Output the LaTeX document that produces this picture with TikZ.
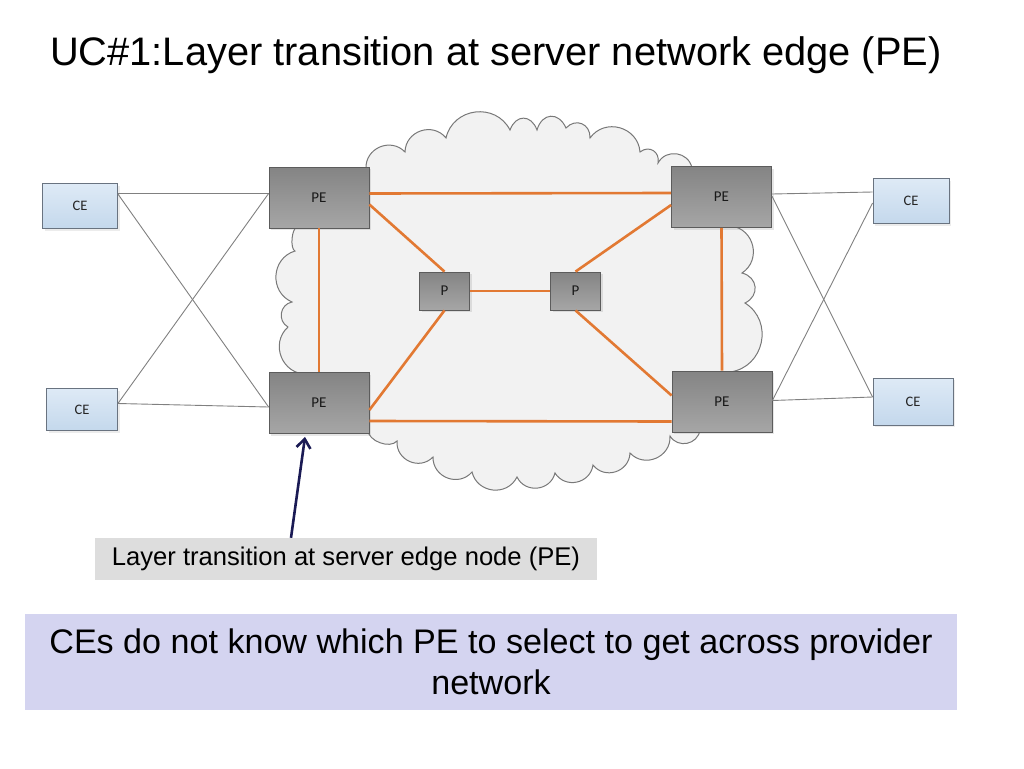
\documentclass[tikz,border=0pt]{standalone}
\usepackage{fontspec}
\setmainfont{Liberation Sans}
\newfontfamily\boxfont{Carlito}
\usepackage{tikz}
\usetikzlibrary{calc}
\usetikzlibrary{arrows.meta}
\usetikzlibrary{shadows}
\tikzset{>=Stealth}

\definecolor{cloudfill}{RGB}{242,242,242}
\definecolor{cloudedge}{RGB}{120,120,120}
\definecolor{linkorange}{RGB}{226,121,51}
\definecolor{petop}{RGB}{132,132,132}
\definecolor{pebottom}{RGB}{166,166,166}
\definecolor{peedge}{RGB}{92,92,92}
\definecolor{cetop}{RGB}{222,234,246}
\definecolor{cebottom}{RGB}{196,216,236}
\definecolor{ceedge}{RGB}{105,115,128}
\definecolor{labelfill}{RGB}{221,221,221}
\definecolor{notefill}{RGB}{212,212,240}
\definecolor{arrownavy}{RGB}{26,26,84}

\newcommand\titlesize{\fontsize{39.8}{46}\selectfont}
\newcommand\notesize{\fontsize{34.1}{41}\selectfont}
\newcommand\labelsize{\fontsize{25.6}{30}\selectfont}

\begin{document}
\begin{tikzpicture}
  [
    x=1pt, y=-1pt,
    puff/.style = {bend left=70, looseness=1.25},
    cloudline/.style = {draw=cloudedge, fill=cloudfill, line width=1pt},
    pebox/.style = {draw=peedge, top color=petop, bottom color=pebottom, line width=0.8pt,
                    minimum width=100pt, minimum height=61pt, inner sep=0pt,
                    font=\boxfont\fontsize{15}{17}\selectfont, text=black!90,
                    drop shadow={shadow xshift=2pt, shadow yshift=-2pt, opacity=0.2}},
    pbox/.style = {pebox, minimum width=50pt, minimum height=38pt},
    cebox/.style = {draw=ceedge, top color=cetop, bottom color=cebottom, line width=0.8pt,
                    minimum width=75pt, minimum height=45pt, inner sep=0pt,
                    font=\boxfont\fontsize{14.5}{16}\selectfont, text=black!85,
                    drop shadow={shadow xshift=2pt, shadow yshift=-2pt, opacity=0.15}},
    corelink/.style = {draw=linkorange, line width=2.6pt},
    celink/.style = {draw=black!50, line width=0.9pt},
    pointer/.style = {draw=arrownavy, line width=2.6pt, -{Straight Barb[length=9pt,width=14pt]}},
  ]

  \useasboundingbox (0,0) rectangle (1024,768);

  % the title
  \node [anchor=base west, font=\titlesize, inner sep=0pt] (title) at (50,66)
    {UC\#1:Layer transition at server network edge (PE)};

  % the cloud
  \draw [cloudline] (366,169) to[puff] (405,152) to[puff] (446,138) to[puff] (510,130)
    to[puff, looseness=1.6] (537,130) to[puff, looseness=1.6] (566,128) to[puff, looseness=1.4] (590,138)
    to[puff] (640,152) to[puff, looseness=1.4] (658,163) to[puff] (692,168) -- (731,226)
    to[puff] (742,273) to[puff, looseness=1.4] (745,303) to[puff] (730,372) -- (700,430)
    to[puff] (670,436) to[puff] (630,453) to[puff] (593,465) to[puff] (555,473)
    to[puff] (517,477) to[puff] (472,472) to[puff] (433,457) to[puff] (397,441)
    to[puff, looseness=0.9] (368,430) -- (307,374) to[puff] (288,327) to[puff] (292,302)
    to[puff] (295,251) to[puff, looseness=0.6] (297,227) -- cycle;

  % the provider edge and core nodes
  \node [pebox] (peTL) at (319,197.5) {PE};
  \node [pebox] (peBL) at (319,403) {PE};
  \node [pebox] (peTR) at (721.5,197) {PE};
  \node [pebox] (peBR) at (722,401.5) {PE};
  \node [pbox] (pL) at (444.5,291) {P};
  \node [pbox] (pR) at (575.5,291) {P};

  % the customer edges
  \node [cebox] (ceLT) at (80,206) {CE};
  \node [cebox, minimum width=71pt, minimum height=42pt] (ceLB) at (82,409.5) {CE};
  \node [cebox, minimum width=76pt] (ceRT) at (911,201) {CE};
  \node [cebox, minimum width=80pt, minimum height=47pt] (ceRB) at (913,401.5) {CE};

  % customer attachments
  \draw [celink] ([yshift=12.5pt]ceLT.east) -- ([yshift=4pt]peTL.west);
  \draw [celink] ([yshift=12pt]ceLT.east) -- ([yshift=-4pt]peBL.west);
  \draw [celink] ([yshift=6pt]ceLB.east) -- ([yshift=-4pt]peBL.west);
  \draw [celink] ([yshift=6pt]ceLB.east) -- ([yshift=4pt]peTL.west);
  \draw [celink] ([yshift=3pt]peTR.east) -- ([yshift=9pt]ceRT.west);
  \draw [celink] ([yshift=1pt]peTR.east) -- ([yshift=4.5pt]ceRB.west);
  \draw [celink] ([yshift=1pt]peBR.east) -- ([yshift=-2pt]ceRT.west);
  \draw [celink] ([yshift=1pt]peBR.east) -- ([yshift=4.5pt]ceRB.west);

  % core links
  \draw [corelink] ([yshift=4pt]peTL.east) -- ([yshift=4pt]peTR.west);
  \draw [corelink] ([yshift=-18pt]peBL.east) -- ([yshift=-20pt]peBR.west);
  \draw [corelink] (peTL.south) -- (peBL.north);
  \draw [corelink] (peTR.south) -- (peBR.north);
  \draw [corelink] ([yshift=-7pt]peTL.east) -- (pL.north);
  \draw [corelink] (pL.south) -- ([yshift=-7pt]peBL.east);
  \draw [corelink] (pL.east) -- (pR.west);
  \draw [corelink] (pR.north) -- ([yshift=-8pt]peTR.west);
  \draw [corelink] (pR.south) -- ([yshift=6pt]peBR.west);

  % the callout
  \node [fill=labelfill, minimum width=502pt, minimum height=42pt, inner sep=0pt, font=\labelsize]
    (layerlabel) at (346,559) {Layer transition at server edge node (PE)};
  \draw [pointer] ([xshift=-55pt]layerlabel.north) -- ([xshift=-14pt,yshift=-3pt]peBL.south);

  % the note
  \node [fill=notefill, minimum width=932pt, minimum height=96pt, align=center,
         inner sep=0pt, font=\notesize] (note) at (491,662)
    {CEs do not know which PE to select to get across provider\\network};

\end{tikzpicture}
\end{document}
